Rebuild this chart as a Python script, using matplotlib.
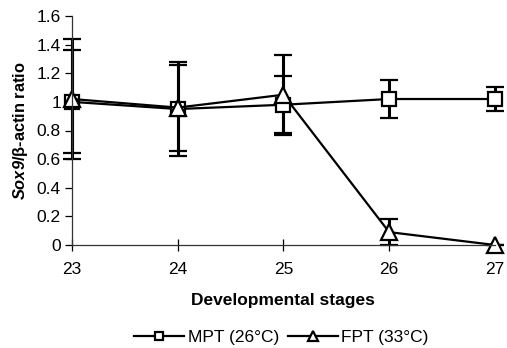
import numpy as np
import matplotlib
matplotlib.use("Agg")
import matplotlib.pyplot as plt
from matplotlib.lines import Line2D

plt.rcParams['font.family'] = ['Liberation Sans', 'DejaVu Sans']
plt.rcParams['mathtext.fontset'] = 'custom'
plt.rcParams['mathtext.rm'] = 'Liberation Sans'
plt.rcParams['mathtext.bf'] = 'Liberation Sans:bold'
plt.rcParams['mathtext.bfit'] = 'Liberation Sans:italic:bold'

# data
stages = [23, 24, 25, 26, 27]
mpt_mean = [1.00, 0.95, 0.98, 1.02, 1.02]
mpt_err = [0.36, 0.33, 0.20, 0.13, 0.085]
fpt_mean = [1.02, 0.96, 1.05, 0.09, 0.00]
fpt_err = [0.42, 0.30, 0.28, 0.09, 0.0]
yticks = [0, 0.2, 0.4, 0.6, 0.8, 1.0, 1.2, 1.4, 1.6]
ytick_labels = ['0', '0.2', '0.4', '0.6', '0.8', '1', '1.2', '1.4', '1.6']

fig = plt.figure(figsize=(5.07, 3.48), dpi=100)
ax = fig.add_axes([0.142, 0.296, 0.834, 0.658])

common = dict(color='black', lw=1.6, markerfacecolor='white',
              markeredgecolor='black', markeredgewidth=1.6,
              ecolor='black', elinewidth=2.2, capsize=6.5, capthick=2.2)
ax.errorbar(stages, mpt_mean, yerr=mpt_err, marker='s', ms=10, **common)
ax.errorbar(stages, fpt_mean, yerr=fpt_err, marker='^', ms=12, **common)
for ch in ax.get_children():
    try:
        ch.set_clip_on(False)
    except Exception:
        pass

ax.set_xlim(23, 27)
ax.set_ylim(0, 1.6)
ax.set_xticks(stages)
ax.set_yticks(yticks)
ax.set_yticklabels(ytick_labels)
for s in ['top', 'right']:
    ax.spines[s].set_visible(False)
for s in ['left', 'bottom']:
    ax.spines[s].set_linewidth(0.9)
    ax.spines[s].set_color('#333333')
ax.tick_params(axis='y', direction='out', length=5, width=0.9, labelsize=12.5, pad=3)
ax.tick_params(axis='x', direction='inout', length=9, width=0.9, labelsize=12.5, pad=8)

ax.set_xlabel('Developmental stages', fontsize=12.5, fontweight='bold', labelpad=11)
ax.set_ylabel(r'$\mathbfit{Sox9}$/β-actin ratio', fontsize=11.8,
              fontweight='bold', labelpad=5)

handles = [Line2D([], [], color='black', lw=1.6, marker='s', ms=6,
                  markerfacecolor='white', markeredgewidth=1.6),
           Line2D([], [], color='black', lw=1.6, marker='^', ms=7,
                  markerfacecolor='white', markeredgewidth=1.6)]
fig.legend(handles, ['MPT (26°C)', 'FPT (33°C)'], loc='center',
           bbox_to_anchor=(0.555, 0.03), ncol=2, frameon=False, fontsize=12.5,
           handlelength=2.9, handletextpad=0.2, columnspacing=0.5)

fig.savefig('out.png', dpi=100)
